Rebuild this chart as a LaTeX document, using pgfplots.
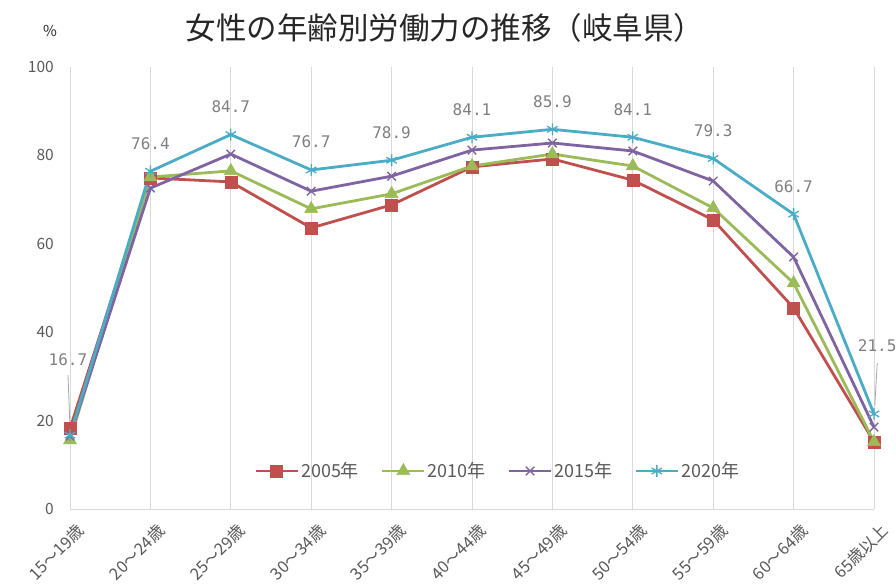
\documentclass[border=0pt]{standalone}
\usepackage{fontspec}
\setmainfont{Noto Sans CJK JP}
\newfontfamily\labelfont{DejaVu Sans Mono}
\usepackage{pgfplots}
\pgfplotsset{compat=1.18}

\definecolor{c05}{HTML}{C0504D}
\definecolor{c10}{HTML}{9BBB59}
\definecolor{c15}{HTML}{8064A2}
\definecolor{c20}{HTML}{4BACC6}
\definecolor{txt}{HTML}{595959}
\definecolor{lbl}{HTML}{7F7F7F}
\definecolor{gridc}{HTML}{D9D9D9}

\begin{document}
\begin{tikzpicture}
\useasboundingbox (0bp,0bp) rectangle (896bp,587bp);
% title and unit
\node[font=\fontsize{30.5bp}{33bp}\selectfont, text=black!85] at (445bp,559bp) {女性の年齢別労働力の推移（岐阜県）};
\node[font=\fontsize{15bp}{18bp}\selectfont, text=black!85] at (50bp,556bp) {\%};

\begin{axis}[
  at={(70bp,78bp)}, anchor=south west,
  scale only axis, width=804bp, height=442bp,
  xmin=0, xmax=10, ymin=0, ymax=100,
  clip=false,
  axis lines=left,
  axis line style={gridc, line width=1bp, -},
  xmajorgrids, grid style={gridc, line width=1bp},
  major tick length=0pt,
  xtick={0,...,10},
  xticklabels={15～19歳,20～24歳,25～29歳,30～34歳,35～39歳,40～44歳,45～49歳,50～54歳,55～59歳,60～64歳,65歳以上},
  ytick={0,20,...,100},
  /pgf/number format/assume math mode=true,
  tick label style={font=\fontsize{15.5bp}{18bp}\selectfont, text=txt},
  xticklabel style={font=\fontsize{16.5bp}{18bp}\selectfont, rotate=45, anchor=east, inner sep=0pt, xshift=-5bp, yshift=-21bp},
  yticklabel style={inner sep=0pt, xshift=-16bp},
  legend columns=4,
  legend style={at={(0.532,0.086)}, anchor=center, draw=none, fill=none,
    font=\fontsize{18bp}{20bp}\selectfont, text=txt,
    /tikz/every even column/.append style={column sep=20bp}},
  legend image code/.code={\draw[mark repeat=2,mark phase=2] plot coordinates {(0bp,0bp) (21bp,0bp) (42bp,0bp)};},
  every axis plot/.append style={line width=2.8bp},
]
\addplot[c05, mark=square*, mark size=6bp, mark options={line width=0.5bp}] coordinates {
 (0,18.2)(1,74.9)(2,74.0)(3,63.6)(4,68.8)(5,77.4)(6,79.2)(7,74.4)(8,65.4)(9,45.5)(10,15.2)};
\addlegendentry{2005年}
\addplot[c10, mark=triangle*, mark size=7.5bp, mark options={line width=0.5bp}] coordinates {
 (0,15.6)(1,75.1)(2,76.5)(3,67.9)(4,71.3)(5,77.6)(6,80.3)(7,77.6)(8,68.1)(9,51.1)(10,15.2)};
\addlegendentry{2010年}
\addplot[c15, mark=x, mark size=6bp, mark options={line width=1.4bp}] coordinates {
 (0,16.5)(1,72.6)(2,80.3)(3,71.9)(4,75.3)(5,81.2)(6,82.8)(7,81.0)(8,74.2)(9,57.0)(10,18.5)};
\addlegendentry{2015年}
\addplot[c20, mark=asterisk, mark size=6bp, mark options={line width=1.3bp},
  point meta=explicit symbolic, nodes near coords,
  nodes near coords style={anchor=center, yshift=28bp, font=\labelfont\fontsize{16bp}{19bp}\selectfont, text=lbl}]
 coordinates {
 (0,16.7)[] (1,76.4)[76.4] (2,84.7)[84.7] (3,76.7)[76.7] (4,78.9)[78.9] (5,84.1)[84.1]
 (6,85.9)[85.9] (7,84.1)[84.1] (8,79.3)[79.3] (9,66.7)[66.7] (10,21.5)[]};
\addlegendentry{2020年}
% labels with leader lines
\draw[black!35, line width=0.8bp] (axis cs:-0.025,30.3) -- (axis cs:0,18.5);
\node[font=\labelfont\fontsize{16bp}{19bp}\selectfont, text=lbl] at (axis cs:-0.025,33.7) {16.7};
\draw[black!35, line width=0.8bp] (axis cs:10.04,33.0) -- (axis cs:10.01,23.5);
\node[font=\labelfont\fontsize{16bp}{19bp}\selectfont, text=lbl] at (axis cs:10.04,37.0) {21.5};
\end{axis}
\end{tikzpicture}
\end{document}
